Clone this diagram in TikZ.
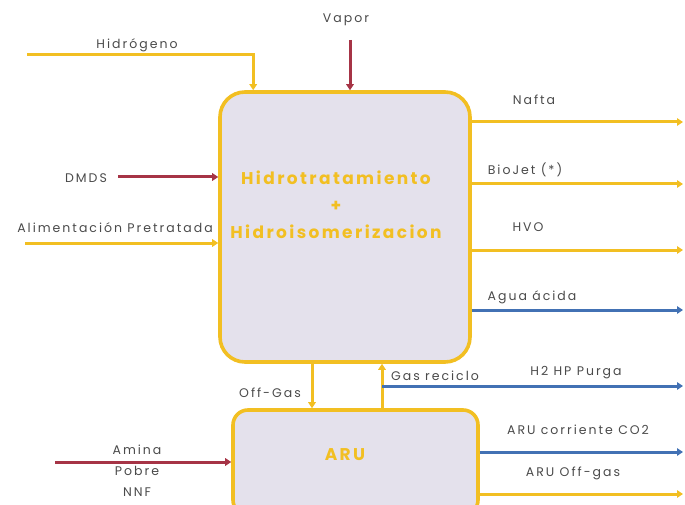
\documentclass[tikz,border=0pt]{standalone}
\usepackage{fontspec}
\setmainfont{Poppins}
\newfontfamily\etiq[LetterSpace=16]{Poppins}
\newfontfamily\tit[LetterSpace=14]{Poppins}
\usetikzlibrary{arrows.meta,positioning}
\definecolor{oro}{HTML}{F2BF22}
\definecolor{vino}{HTML}{A63446}
\definecolor{azul}{HTML}{4271B4}
\definecolor{lila}{HTML}{E4E1EC}
\definecolor{gris}{HTML}{4A4A4A}

\begin{document}
\begin{tikzpicture}[x=1pt,y=-1pt,>={Triangle[length=6pt,width=7.5pt]},font=\etiq\fontsize{12.5}{14}\selectfont,
  unidad/.style={draw=oro,line width=3.6pt,fill=lila,rounded corners=25pt},
  flujo/.style={->,line width=3pt},
  lbl/.style={text=gris,inner sep=1pt}]
\useasboundingbox (0,0) rectangle (685,505);
% equipos
\node[unidad,minimum width=250pt,minimum height=270pt] (main) at (345,227) {};
\node[unidad,rounded corners=15pt,minimum width=245pt,minimum height=105pt] (aru) at (355.5,462.5) {};
\node[text=oro,font=\tit\fontsize{17}{27}\selectfont\bfseries,align=center] (titulo) at (336,205) {Hidrotratamiento\\+\\Hidroisomerizacion};
\node[text=oro,font=\tit\fontsize{17}{17}\selectfont\bfseries] (arulbl) at (345,455) {ARU};
% entradas
\node[lbl] (hidr) at (137,45) {Hidrógeno};
\coordinate (h2in) at (27,55);
\draw[flujo,oro] (h2in) -| ([xshift=35pt]main.north west);
\node[lbl] (vapor) at (346,20) {Vapor};
\coordinate (vapin) at (350,40);
\draw[flujo,vino] (vapin) -- (vapin |- main.north);
\node[lbl] (dmds) at (86,178) {DMDS};
\coordinate (dmdsin) at (118,177);
\draw[flujo,vino] (dmdsin) -- (dmdsin -| main.west);
\node[lbl] (alim) at (115,228) {Alimentación Pretratada};
\coordinate (alimin) at (25,243);
\draw[flujo,oro] (alimin) -- (alimin -| main.west);
\node[lbl,align=center,font=\etiq\fontsize{12.5}{21}\selectfont] (amina) at (137,471) {Amina\\Pobre\\NNF};
\coordinate (aminin) at (55,462);
\draw[flujo,vino] (aminin) -- (aminin -| aru.west);
% salidas
\foreach \nom/\y/\col/\txt/\lx/\ly in {nafta/122/oro/Nafta/534/100,biojet/184/oro/{BioJet (*)}/525/170,hvo/250/oro/HVO/528/227,agua/310/azul/Agua ácida/532/297}{
  \coordinate (\nom) at (683,\y);
  \draw[flujo,\col] (\nom -| main.east) -- (\nom);
  \node[lbl] (\nom lbl) at (\lx,\ly) {\txt};
}
% entre equipos
\coordinate (offg) at (312,0);
\draw[flujo,oro] (offg |- main.south) -- (offg |- aru.north);
\node[lbl] (offglbl) at (270,393) {Off-Gas};
\coordinate (recic) at (382,0);
\draw[flujo,oro] (recic |- aru.north) -- (recic |- main.south);
\node[lbl] (reciclbl) at (435,376) {Gas reciclo};
\coordinate (purga) at (683,386);
\draw[flujo,azul] (purga -| recic) -- (purga);
\node[lbl] (purgalbl) at (576,373) {H2 HP Purga};
\coordinate (co2) at (683,452);
\draw[flujo,azul] (co2 -| aru.east) -- (co2);
\node[lbl] (co2lbl) at (578,430) {ARU corriente CO2};
\coordinate (aruoff) at (683,494);
\draw[flujo,oro] (aruoff -| aru.east) -- (aruoff);
\node[lbl] (aruofflbl) at (573,473) {ARU Off-gas};
\end{tikzpicture}
\end{document}
